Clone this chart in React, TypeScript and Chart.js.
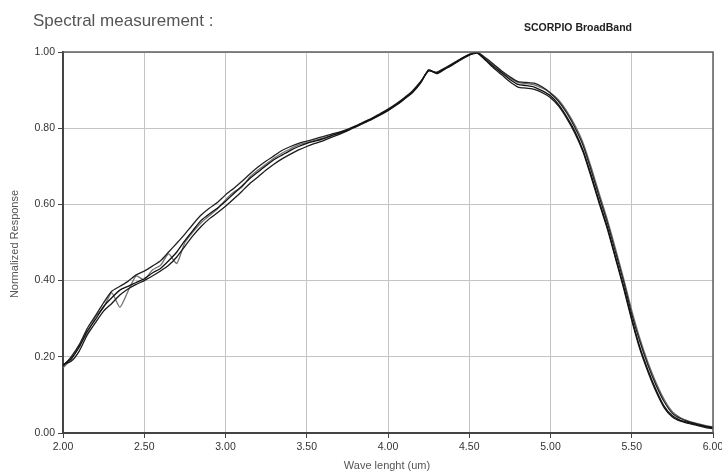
import React, { useEffect, useRef } from "react";
import { Chart, registerables } from "chart.js";

Chart.register(...registerables);

const wavelengths = [
  2.0, 2.05, 2.1, 2.15, 2.2, 2.25, 2.3, 2.35, 2.4, 2.45, 2.5, 2.55, 2.6, 2.65, 2.7, 2.75, 2.8, 2.85, 2.9, 2.95,
  3.0, 3.05, 3.1, 3.15, 3.2, 3.25, 3.3, 3.35, 3.4, 3.45, 3.5, 3.55, 3.6, 3.65, 3.7, 3.75, 3.8, 3.85, 3.9, 3.95,
  4.0, 4.05, 4.1, 4.15, 4.2, 4.25, 4.3, 4.35, 4.4, 4.45, 4.5, 4.55, 4.6, 4.65, 4.7, 4.75, 4.8, 4.85, 4.9, 4.95,
  5.0, 5.05, 5.1, 5.15, 5.2, 5.25, 5.3, 5.35, 5.4, 5.45, 5.5, 5.55, 5.6, 5.65, 5.7, 5.75, 5.8, 5.85, 5.9, 5.95,
  6.0,
];

const measurementA = [
  0.178, 0.195, 0.225, 0.268, 0.298, 0.332, 0.355, 0.375, 0.385, 0.395, 0.405, 0.42, 0.432, 0.452, 0.475, 0.505, 0.532, 0.558, 0.575, 0.59,
  0.608, 0.628, 0.648, 0.668, 0.685, 0.702, 0.718, 0.73, 0.742, 0.752, 0.76, 0.766, 0.772, 0.78, 0.787, 0.795, 0.805, 0.815, 0.825, 0.836,
  0.848, 0.862, 0.878, 0.895, 0.92, 0.952, 0.945, 0.956, 0.968, 0.982, 0.993, 0.998, 0.98, 0.962, 0.945, 0.928, 0.915, 0.912, 0.908, 0.898,
  0.885, 0.862, 0.83, 0.792, 0.742, 0.677, 0.607, 0.54, 0.462, 0.385, 0.3, 0.225, 0.165, 0.113, 0.07, 0.045, 0.033, 0.027, 0.022, 0.017,
  0.013,
];

const measurementB = [
  0.175, 0.2, 0.232, 0.275, 0.308, 0.342, 0.372, 0.385, 0.398, 0.415, 0.425, 0.438, 0.452, 0.475, 0.498, 0.522, 0.548, 0.572, 0.59, 0.605,
  0.625, 0.642, 0.66, 0.68, 0.698, 0.714, 0.728, 0.742, 0.752, 0.76, 0.766, 0.772, 0.778, 0.784, 0.79, 0.797, 0.806, 0.816, 0.826, 0.838,
  0.85, 0.864, 0.88, 0.898, 0.922, 0.95, 0.947, 0.958, 0.97, 0.983, 0.994, 0.999, 0.985, 0.968, 0.95, 0.935, 0.922, 0.92, 0.918, 0.908,
  0.892, 0.87, 0.84, 0.802, 0.755, 0.69, 0.62, 0.552, 0.475, 0.398, 0.312, 0.24, 0.178, 0.125, 0.082, 0.052, 0.038, 0.03, 0.024, 0.019,
  0.015,
];

const measurementC = [
  0.18, 0.188, 0.215, 0.258, 0.29, 0.32, 0.34, 0.362, 0.378, 0.39, 0.4, 0.412, 0.425, 0.44, 0.462, 0.49, 0.518, 0.542, 0.562, 0.578,
  0.595, 0.614, 0.634, 0.655, 0.672, 0.69, 0.706, 0.72, 0.732, 0.743, 0.752, 0.76, 0.767, 0.776, 0.784, 0.793, 0.803, 0.813, 0.823, 0.834,
  0.846, 0.86, 0.876, 0.893, 0.918, 0.953, 0.943, 0.955, 0.967, 0.98, 0.992, 0.997, 0.978, 0.958, 0.94, 0.922, 0.908, 0.905, 0.902, 0.893,
  0.88, 0.858, 0.826, 0.787, 0.738, 0.672, 0.602, 0.535, 0.458, 0.38, 0.296, 0.22, 0.16, 0.108, 0.066, 0.042, 0.031, 0.025, 0.02, 0.015,
  0.011,
];

const measurementD = [
  0.172, 0.192, 0.23, 0.262, 0.305, 0.33, 0.368, 0.33, 0.372, 0.412, 0.402, 0.428, 0.44, 0.47, 0.445, 0.5, 0.528, 0.552, 0.57, 0.588,
  0.612, 0.632, 0.645, 0.672, 0.69, 0.706, 0.722, 0.735, 0.746, 0.756, 0.762, 0.768, 0.774, 0.781, 0.788, 0.796, 0.804, 0.814, 0.824, 0.835,
  0.847, 0.861, 0.877, 0.894, 0.919, 0.951, 0.944, 0.957, 0.969, 0.981, 0.992, 0.997, 0.983, 0.966, 0.948, 0.932, 0.92, 0.917, 0.914, 0.905,
  0.893, 0.874, 0.845, 0.808, 0.762, 0.698, 0.628, 0.56, 0.484, 0.405, 0.322, 0.248, 0.185, 0.132, 0.088, 0.056, 0.04, 0.031, 0.025, 0.02,
  0.016,
];

const seriesList = [measurementA, measurementB, measurementC, measurementD];
const seriesColors = ["#111111", "#222222", "#1a1a1a", "#707070"];

const xTicks = [2.0, 2.5, 3.0, 3.5, 4.0, 4.5, 5.0, 5.5, 6.0];
const yTicks = [0.0, 0.2, 0.4, 0.6, 0.8, 1.0];

const chartTitle = "Spectral measurement :";
const chartSubtitle = "SCORPIO BroadBand";
const xAxisTitle = "Wave lenght (um)";
const yAxisTitle = "Normalized Response";

const FONT = "Arial, 'Liberation Sans', sans-serif";

export default function App() {
  const canvasRef = useRef<HTMLCanvasElement | null>(null);

  useEffect(() => {
    const canvas = canvasRef.current;
    if (!canvas) return;

    const decor = {
      id: "decor",
      beforeDraw(chart: any) {
        const ctx = chart.ctx;
        ctx.save();
        ctx.fillStyle = "#ffffff";
        ctx.fillRect(0, 0, chart.width, chart.height);
        ctx.restore();
      },
      afterDraw(chart: any) {
        const ctx = chart.ctx;
        const a = chart.chartArea;
        ctx.save();
        // top & right frame
        ctx.strokeStyle = "#606060";
        ctx.lineWidth = 1.5;
        ctx.beginPath();
        ctx.moveTo(a.left, a.top);
        ctx.lineTo(a.right, a.top);
        ctx.lineTo(a.right, a.bottom);
        ctx.stroke();

        ctx.fillStyle = "#555555";
        ctx.font = `17px ${FONT}`;
        ctx.textAlign = "left";
        ctx.textBaseline = "middle";
        ctx.fillText(chartTitle, 33, 21);

        ctx.fillStyle = "#222222";
        ctx.font = `bold 10.5px ${FONT}`;
        ctx.textAlign = "center";
        ctx.fillText(chartSubtitle, 578, 28);

        ctx.fillStyle = "#555555";
        ctx.font = `11px ${FONT}`;
        ctx.fillText(xAxisTitle, 387, 466);

        ctx.translate(15, 244);
        ctx.rotate(-Math.PI / 2);
        ctx.fillText(yAxisTitle, 0, 0);
        ctx.restore();
      },
    };

    const chart = new Chart(canvas, {
      type: "line",
      data: {
        datasets: seriesList.map((vals, i) => ({
          label: `Measurement ${i + 1}`,
          data: vals.map((v, j) => ({ x: wavelengths[j], y: v })),
          borderColor: seriesColors[i],
          borderWidth: 1.3,
          pointRadius: 0,
          tension: 0.2,
          fill: false,
        })),
      },
      options: {
        animation: false,
        responsive: false,
        devicePixelRatio: 1,
        layout: { padding: { left: 0, top: 52, right: 9, bottom: 0 } },
        plugins: {
          legend: { display: false },
          tooltip: { enabled: false },
          title: { display: false },
        },
        scales: {
          x: {
            type: "linear",
            min: 2,
            max: 6,
            afterBuildTicks: (scale: any) => {
              scale.ticks = xTicks.map((v) => ({ value: v }));
            },
            afterFit: (scale: any) => {
              scale.height = 39;
              scale.paddingLeft = 0;
              scale.paddingRight = 0;
            },
            ticks: {
              color: "#333333",
              font: { family: FONT, size: 10.5 },
              padding: 3,
              maxRotation: 0,
              autoSkip: false,
              callback: (v: any) => Number(v).toFixed(2),
            },
            grid: {
              color: "#c4c4c4",
              lineWidth: 1,
              tickColor: "#444444",
              tickLength: 5,
              drawTicks: true,
            },
            border: { display: true, color: "#444444", width: 2 },
          },
          y: {
            type: "linear",
            min: 0,
            max: 1,
            afterBuildTicks: (scale: any) => {
              scale.ticks = yTicks.map((v) => ({ value: v }));
            },
            afterFit: (scale: any) => {
              scale.width = 63;
              scale.paddingTop = 0;
              scale.paddingBottom = 0;
            },
            ticks: {
              color: "#333333",
              font: { family: FONT, size: 10.5 },
              padding: 3,
              autoSkip: false,
              callback: (v: any) => Number(v).toFixed(2),
            },
            grid: {
              color: "#c4c4c4",
              lineWidth: 1,
              tickColor: "#444444",
              tickLength: 5,
              drawTicks: true,
            },
            border: { display: true, color: "#444444", width: 2 },
          },
        },
      },
      plugins: [decor],
    } as any);

    return () => chart.destroy();
  }, []);

  return (
    <div style={{ position: "absolute", left: 0, top: 0, width: 722, height: 472, background: "#fff" }}>
      <canvas ref={canvasRef} width={722} height={472} style={{ width: 722, height: 472, display: "block" }} />
    </div>
  );
}
